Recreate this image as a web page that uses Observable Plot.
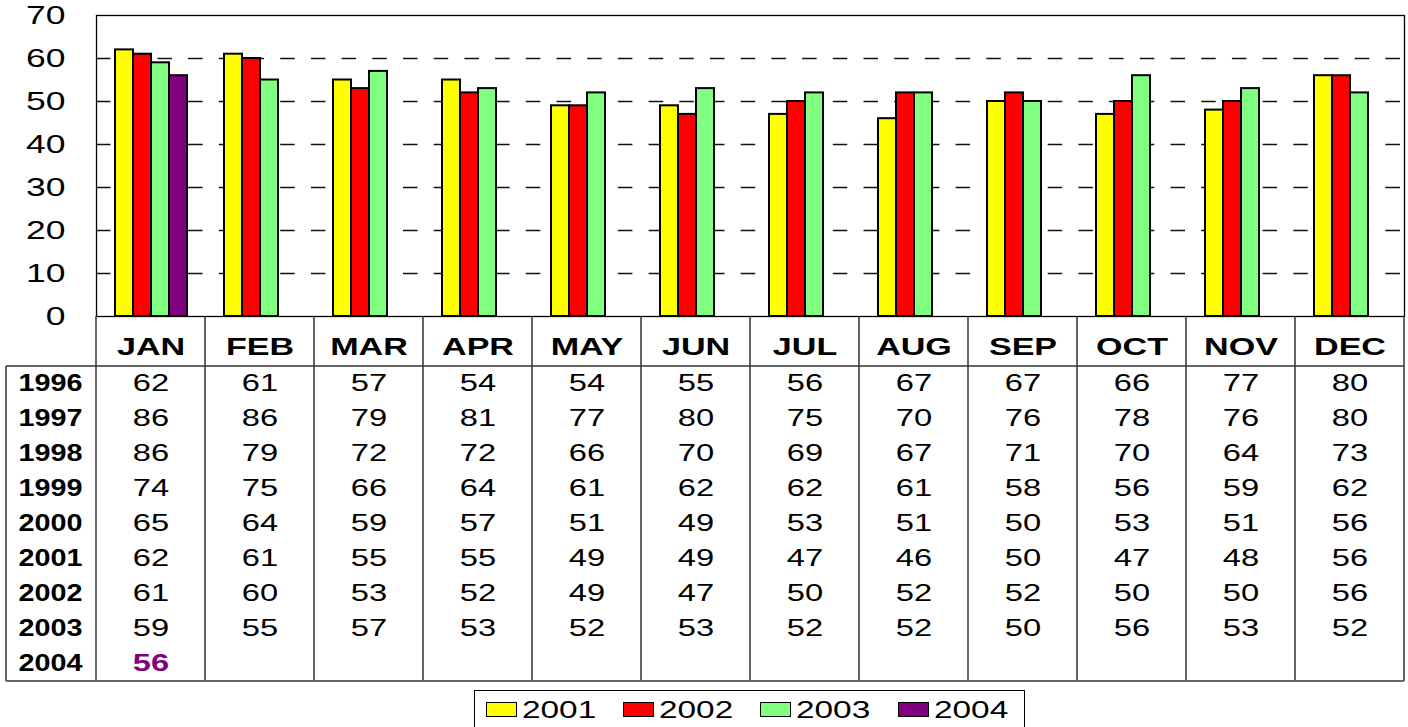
<!DOCTYPE html>
<html>
<head>
<meta charset="utf-8">
<script src="https://cdn.jsdelivr.net/npm/d3@7"></script>
<script src="https://cdn.jsdelivr.net/npm/@observablehq/plot@0.6"></script>
<style>
  body { margin: 0; background: #fff; }
  #chart { position: relative; width: 1408px; height: 727px; font-family: "Liberation Sans", Arial, sans-serif; background: #fff; overflow: hidden; }
  #chart svg { position: absolute; left: 0; overflow: visible; }
  #legend { position: absolute; left: 474px; top: 690px; width: 551px; height: 40px; border: 1.5px solid #000; box-sizing: border-box; }
  .item { position: absolute; top: 10px; height: 20px; }
  .sw { position: absolute; left: 0; top: 1px; width: 31px; height: 15px; border: 1.5px solid #000; box-sizing: border-box; }
  .lt { position: absolute; left: 36px; top: -5px; font-size: 23px; line-height: 28px; color: #000; white-space: nowrap; transform: scaleX(1.45); transform-origin: left center; }
</style>
</head>
<body>
<div id="chart"></div>
<script>
// ---- data ----
const months = ["JAN","FEB","MAR","APR","MAY","JUN","JUL","AUG","SEP","OCT","NOV","DEC"];
const years = ["1996","1997","1998","1999","2000","2001","2002","2003","2004"];
const v1996 = [62,61,57,54,54,55,56,67,67,66,77,80];
const v1997 = [86,86,79,81,77,80,75,70,76,78,76,80];
const v1998 = [86,79,72,72,66,70,69,67,71,70,64,73];
const v1999 = [74,75,66,64,61,62,62,61,58,56,59,62];
const v2000 = [65,64,59,57,51,49,53,51,50,53,51,56];
const v2001 = [62,61,55,55,49,49,47,46,50,47,48,56];
const v2002 = [61,60,53,52,49,47,50,52,52,50,50,56];
const v2003 = [59,55,57,53,52,53,52,52,50,56,53,52];
const v2004 = [56];
const barYears = ["2001","2002","2003","2004"];
const barColors = ["#ffff00","#ff0000","#80ff80","#800080"];
const yTicks = [0,10,20,30,40,50,60,70];

const series = {"1996": v1996, "1997": v1997, "1998": v1998, "1999": v1999, "2000": v2000,
                "2001": v2001, "2002": v2002, "2003": v2003, "2004": v2004};
const rows = years.flatMap(y => series[y].map((v, i) => ({month: months[i], year: y, value: v})));
const barData = rows.filter(d => barYears.includes(d.year));

const FONT = "'Liberation Sans', Arial, sans-serif";
const chart = document.getElementById("chart");
const frameDims = {width: 1408, height: 316, marginLeft: 96, marginRight: 4, marginTop: 15, marginBottom: 0};

// ---- grid, frame and y axis (continuous across months) ----
const p0 = Plot.plot({
  ...frameDims,
  style: {fontFamily: FONT, background: "transparent", color: "#000"},
  y: {domain: [0, 70]},
  marks: [
    Plot.ruleY(yTicks.filter(t => t > 0 && t < 70), {stroke: "#111", strokeWidth: 1.4, strokeDasharray: "14.5,16.2"}),
    Plot.frame({stroke: "#000", strokeWidth: 1.3}),
    Plot.axisY(yTicks, {tickSize: 0, tickPadding: 31, fontSize: 25, label: null})
  ]
});
p0.style.top = "0px";
chart.appendChild(p0);

// ---- grouped bars ----
const p1 = Plot.plot({
  ...frameDims,
  style: {fontFamily: FONT, background: "transparent", color: "#000"},
  fx: {domain: months, padding: 0, axis: null},
  x: {domain: barYears, paddingInner: 0, paddingOuter: 0.946, axis: null},
  y: {domain: [0, 70], axis: null},
  color: {domain: barYears, range: barColors},
  marks: [
    Plot.barY(barData, {fx: "month", x: "year", y: "value", fill: "year", stroke: "#000", strokeWidth: 2, inset: 0})
  ]
});
p1.style.top = "0px";
chart.appendChild(p1);

// ---- data table ----
const LABEL_COL = 90;
function tableGrid(index, scales, values, dimensions) {
  const {x, y} = scales;
  const {width, marginLeft, marginRight} = dimensions;
  const left = marginLeft - LABEL_COL;
  const right = width - marginRight;
  const top = y(years[0]);
  const bottom = y(years[years.length - 1]) + y.bandwidth();
  const g = d3.create("svg:g").attr("fill", "none").attr("stroke", "#333").attr("stroke-width", 1.5);
  for (const m of months) g.append("line").attr("x1", x(m)).attr("x2", x(m)).attr("y1", 0).attr("y2", bottom);
  g.append("line").attr("x1", right).attr("x2", right).attr("y1", 0).attr("y2", bottom);
  g.append("line").attr("x1", left).attr("x2", left).attr("y1", top).attr("y2", bottom);
  g.append("line").attr("x1", left).attr("x2", right).attr("y1", top).attr("y2", top);
  g.append("line").attr("x1", left).attr("x2", right).attr("y1", bottom).attr("y2", bottom).attr("stroke", "#666").attr("stroke-width", 2);
  return g.node();
}

const p2 = Plot.plot({
  width: 1408, height: 368,
  marginLeft: 96, marginRight: 4, marginTop: 47, marginBottom: 1,
  style: {fontFamily: FONT, background: "transparent", color: "#000"},
  x: {type: "band", domain: months, padding: 0},
  y: {type: "band", domain: years, padding: 0},
  marks: [
    tableGrid,
    Plot.axisX({anchor: "top", tickSize: 0, tickPadding: 9, fontSize: 24, fontWeight: "bold", label: null}),
    Plot.axisY({anchor: "left", tickSize: 0, tickPadding: 14, fontSize: 23, fontWeight: "bold", label: null}),
    Plot.text(rows.filter(d => d.year !== "2004"), {x: "month", y: "year", text: "value", fontSize: 23, fill: "#000"}),
    Plot.text(rows.filter(d => d.year === "2004"), {x: "month", y: "year", text: "value", fontSize: 23, fontWeight: "bold", fill: "#800080"})
  ]
});
p2.style.top = "316px";
chart.appendChild(p2);

// horizontal stretch of the lettering, as in the reference
function stretchAll(nodes, factor) {
  nodes.forEach(t => {
    const w = t.getComputedTextLength();
    if (w > 0) {
      t.setAttribute("textLength", (w * factor).toFixed(2));
      t.setAttribute("lengthAdjust", "spacingAndGlyphs");
    }
  });
}
stretchAll(p0.querySelectorAll("text"), 1.42);
stretchAll(p2.querySelectorAll('g[aria-label="x-axis tick label"] text'), 1.42);
stretchAll(p2.querySelectorAll('g[aria-label="y-axis tick label"] text'), 1.25);
stretchAll(p2.querySelectorAll('g[aria-label="text"] text'), 1.42);

// ---- legend ----
const legend = document.createElement("div");
legend.id = "legend";
barYears.forEach((yr, i) => {
  const item = document.createElement("div");
  item.className = "item";
  item.style.left = (11 + i * 137.2) + "px";
  const sw = document.createElement("div");
  sw.className = "sw";
  sw.style.background = barColors[i];
  const lt = document.createElement("span");
  lt.className = "lt";
  lt.textContent = yr;
  item.appendChild(sw);
  item.appendChild(lt);
  legend.appendChild(item);
});
chart.appendChild(legend);
</script>
</body>
</html>
